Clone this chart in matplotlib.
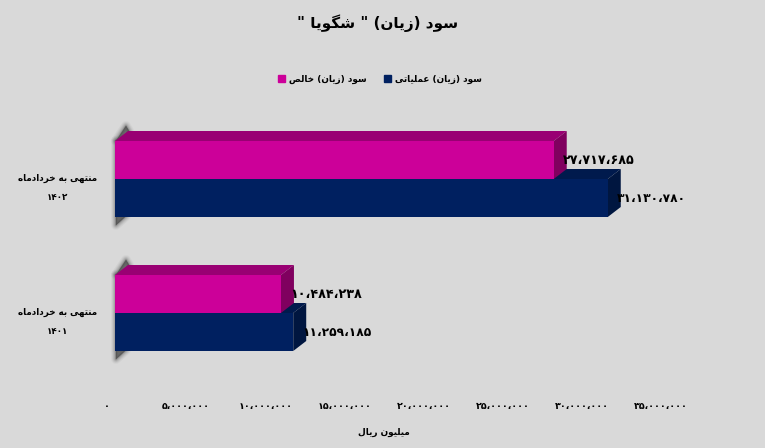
import re
import matplotlib
matplotlib.use("Agg")
import matplotlib.pyplot as plt
from matplotlib.patches import Polygon, Patch
from matplotlib.ticker import FuncFormatter
from matplotlib.transforms import ScaledTranslation

title = 'سود (زیان) " شگویا "'
series_names = ["سود (زیان) خالص", "سود (زیان) عملیاتی"]
periods = ["منتهی به خردادماه\n۱۴۰۱", "منتهی به خردادماه\n۱۴۰۲"]
net_profit = [10484238, 27717685]
operating_profit = [11259185, 31130780]
x_ticks = [0, 5000000, 10000000, 15000000, 20000000, 25000000, 30000000, 35000000]
x_label = "میلیون ریال"

plt.rcParams["font.family"] = ["DejaVu Sans"]
plt.rcParams["font.weight"] = "bold"

# matplotlib does no arabic shaping, so map letters to presentation forms by hand
# letter: isolated, final, initial, medial
FORMS = {
    "ا": "\uFE8D\uFE8E", "د": "\uFEA9\uFEAA", "ر": "\uFEAD\uFEAE", "ز": "\uFEAF\uFEB0", "و": "\uFEED\uFEEE",
    "ب": "\uFE8F\uFE90\uFE91\uFE92", "ت": "\uFE95\uFE96\uFE97\uFE98", "خ": "\uFEA5\uFEA6\uFEA7\uFEA8",
    "س": "\uFEB1\uFEB2\uFEB3\uFEB4", "ش": "\uFEB5\uFEB6\uFEB7\uFEB8", "ص": "\uFEB9\uFEBA\uFEBB\uFEBC",
    "ع": "\uFEC9\uFECA\uFECB\uFECC", "گ": "\uFB92\uFB93\uFB94\uFB95", "ل": "\uFEDD\uFEDE\uFEDF\uFEE0",
    "م": "\uFEE1\uFEE2\uFEE3\uFEE4", "ن": "\uFEE5\uFEE6\uFEE7\uFEE8", "ه": "\uFEE9\uFEEA\uFEEB\uFEEC",
    "ی": "\uFBFC\uFBFD\uFBFE\uFBFF",
}
MIRROR = {"(": ")", ")": "("}


def shape_line(line):
    if re.fullmatch(r"[۰-۹]+", line):
        return line
    out = []
    for i, ch in enumerate(line):
        if ch not in FORMS:
            out.append(MIRROR.get(ch, ch))
            continue
        prev = line[i - 1] if i > 0 else ""
        nxt = line[i + 1] if i + 1 < len(line) else ""
        join_prev = prev in FORMS and len(FORMS[prev]) == 4
        join_next = nxt in FORMS and len(FORMS[ch]) == 4
        idx = {(False, False): 0, (True, False): 1, (False, True): 2, (True, True): 3}[(join_prev, join_next)]
        out.append(FORMS[ch][idx])
    return "".join(reversed(out))


def fa(text):
    return "\n".join(shape_line(s) for s in text.split("\n"))


def fa_number(v):
    s = "{:,}".format(int(v))
    return s.translate(str.maketrans("0123456789,", "۰۱۲۳۴۵۶۷۸۹،"))


W, H = 765, 448
fig = plt.figure(figsize=(W / 100, H / 100), dpi=100, facecolor="#d9d9d9")
# plot area in pixels: x 115..669, y 112..380
ax = fig.add_axes([115 / W, 1 - 380 / H, 554 / W, 268 / H])
ax.set_facecolor("none")
ax.set_xlim(0, 35000000)
ax.set_ylim(0, 2)
for s in ax.spines.values():
    s.set_visible(False)

px_x = 35000000 / 554
px_y = 2 / 268
depth_x = 13 * px_x
depth_y = 10 * px_y
bar_h = 38 * px_y

# soft shadow on the wall left of the bars
for c in [0.5, 1.5]:
    y0, y1 = c - bar_h, c + bar_h
    top = [(1 * px_x, y1), (11 * px_x, y1 + 15 * px_y), (14 * px_x, y1 + 10 * px_y), (13 * px_x, y1)]
    side = [(1 * px_x, y0 - 8 * px_y), (11 * px_x, y0 + 1 * px_y), (1 * px_x, y0 + 1 * px_y), (1 * px_x, y1)]
    for shape in [top, side]:
        for lw, a in [(7, 0.05), (5.5, 0.08), (4, 0.11), (2.5, 0.16), (1.2, 0.25), (0.4, 0.35)]:
            ax.add_patch(Polygon(shape, closed=True, fc="#444444", ec="#444444", lw=lw, alpha=a,
                                 joinstyle="round", clip_on=False, zorder=1))


def box(value, y, h, front, top, side, z):
    ax.barh(y, value, height=h, align="edge", color=front, zorder=z + 0.5)
    ax.add_patch(Polygon([(0, y + h), (depth_x, y + h + depth_y), (value + depth_x, y + h + depth_y), (value, y + h)],
                         closed=True, fc=top, ec="none", zorder=z))
    ax.add_patch(Polygon([(value, y), (value + depth_x, y + depth_y), (value + depth_x, y + h + depth_y), (value, y + h)],
                         closed=True, fc=side, ec="none", zorder=z))


for i, c in enumerate([0.5, 1.5]):
    box(operating_profit[i], c - bar_h, bar_h, "#002060", "#001a4d", "#001640", 2 + i * 2)
    box(net_profit[i], c, bar_h, "#cc0099", "#990073", "#80005f", 3 + i * 2)
    ax.text(net_profit[i] + 9 * px_x, c + bar_h / 2, fa_number(net_profit[i]), va="center", ha="left",
            fontsize=9.2, color="black", zorder=10)
    ax.text(operating_profit[i] + 9.5 * px_x, c - bar_h / 2, fa_number(operating_profit[i]), va="center", ha="left",
            fontsize=8.8, color="black", zorder=10)

ax.set_yticks([0.5, 1.5])
ax.set_yticklabels([fa(p) for p in periods], fontsize=6.3, ha="center", linespacing=2.4)
ax.tick_params(axis="y", length=0, pad=41.5)
for lab in ax.get_yticklabels():
    lab.set_transform(lab.get_transform() + ScaledTranslation(0, -3 / 100, fig.dpi_scale_trans))

ax.set_xticks(x_ticks)
ax.xaxis.set_major_formatter(FuncFormatter(lambda v, pos: fa_number(v)))
ax.tick_params(axis="x", length=0, pad=15.5, labelsize=6.8)
for lab in ax.get_xticklabels():
    lab.set_transform(lab.get_transform() + ScaledTranslation(-8 / 100, 0, fig.dpi_scale_trans))

fig.text(384 / W, 1 - 432 / H, fa(x_label), ha="center", va="center", fontsize=6.4)
fig.text(378 / W, 1 - 23 / H, fa(title), ha="center", va="center", fontsize=11)

handles = [Patch(color="#cc0099"), Patch(color="#002060")]
leg = fig.legend(handles, [fa(s) for s in series_names], ncol=2, loc="center", bbox_to_anchor=(380 / W, 1 - 79 / H),
                 frameon=False, fontsize=6.4, handlelength=0.8, handleheight=0.8, handletextpad=0.45, columnspacing=1.9)

fig.savefig("out.png", dpi=100, facecolor=fig.get_facecolor())
